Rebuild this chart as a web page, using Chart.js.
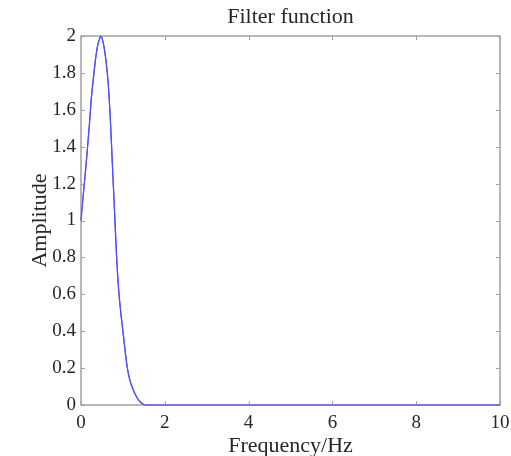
<!DOCTYPE html>
<html>
<head>
<meta charset="utf-8">
<script src="https://cdn.jsdelivr.net/npm/chart.js@4.4.1/dist/chart.umd.min.js"></script>
<style>
  html, body { margin: 0; padding: 0; background: #ffffff; }
  #wrap { width: 511px; height: 456px; }
</style>
</head>
<body>
<div id="wrap"><canvas id="c" width="511" height="456"></canvas></div>
<script>
// Data
const frequency = [0, 0.05, 0.1, 0.15, 0.2, 0.25, 0.3, 0.35, 0.4, 0.45, 0.47, 0.5, 0.55, 0.6, 0.65, 0.7, 0.75, 0.8, 0.85, 0.9, 0.95, 1.0, 1.05, 1.1, 1.15, 1.2, 1.25, 1.3, 1.35, 1.4, 1.45, 1.5, 1.6, 2, 4, 6, 8, 10];
const amplitude = [1.0, 1.13, 1.25, 1.38, 1.52, 1.67, 1.78, 1.88, 1.95, 1.99, 2.0, 1.99, 1.94, 1.86, 1.74, 1.55, 1.30, 1.05, 0.80, 0.62, 0.50, 0.40, 0.30, 0.21, 0.15, 0.11, 0.08, 0.055, 0.035, 0.02, 0.01, 0.003, 0, 0, 0, 0, 0, 0];
const xTicks = [0, 2, 4, 6, 8, 10];
const yTicks = [0, 0.2, 0.4, 0.6, 0.8, 1, 1.2, 1.4, 1.6, 1.8, 2];

const FONT = '"Liberation Serif", "Times New Roman", Times, serif';
const AXIS_COLOR = '#a0a0a0';
const TEXT_COLOR = '#262626';

const points = frequency.map((f, i) => ({ x: f, y: amplitude[i] }));

// Box (top/right) and inward tick marks, positioned via the chart's scales
const boxPlugin = {
  id: 'box',
  afterDraw(chart) {
    const { ctx, chartArea: a, scales } = chart;
    ctx.save();
    ctx.strokeStyle = AXIS_COLOR;
    ctx.lineWidth = 1.5;
    ctx.beginPath();
    ctx.rect(a.left, a.top, a.right - a.left, a.bottom - a.top);
    ctx.stroke();
    ctx.lineWidth = 1;
    const L = 4;
    ctx.beginPath();
    xTicks.forEach(v => {
      const px = Math.round(scales.x.getPixelForValue(v)) + 0.5;
      ctx.moveTo(px, a.bottom); ctx.lineTo(px, a.bottom - L);
      ctx.moveTo(px, a.top); ctx.lineTo(px, a.top + L);
    });
    yTicks.forEach(v => {
      const py = Math.round(scales.y.getPixelForValue(v)) + 0.5;
      ctx.moveTo(a.left, py); ctx.lineTo(a.left + L, py);
      ctx.moveTo(a.right, py); ctx.lineTo(a.right - L, py);
    });
    ctx.stroke();
    ctx.restore();
  }
};

// Redraw dataset on top of the box so the blue line sits over the axis
const topLinePlugin = {
  id: 'topLine',
  afterDraw(chart) {
    const meta = chart.getDatasetMeta(0);
    const ctx = chart.ctx;
    ctx.save();
    meta.dataset.draw(ctx, chart.chartArea);
    ctx.restore();
  }
};

const fmt = v => String(+Number(v).toFixed(1));

new Chart(document.getElementById('c'), {
  type: 'line',
  data: {
    datasets: [{
      data: points,
      borderColor: 'rgb(80,80,255)',
      borderWidth: 1.2,
      pointRadius: 0,
      fill: false,
      cubicInterpolationMode: 'monotone',
      clip: 2
    }]
  },
  options: {
    responsive: false,
    animation: false,
    devicePixelRatio: 1,
    layout: { padding: { top: 0, right: 11, bottom: 0, left: 0 } },
    plugins: {
      legend: { display: false },
      tooltip: { enabled: false },
      title: {
        display: true,
        fullSize: false,
        text: 'Filter function',
        color: TEXT_COLOR,
        font: { family: FONT, size: 22, weight: 'normal', lineHeight: 1.2 },
        padding: { top: 4, bottom: 5.6 }
      }
    },
    scales: {
      x: {
        type: 'linear',
        min: 0, max: 10,
        afterBuildTicks(scale) { scale.ticks = xTicks.map(v => ({ value: v })); },
        afterFit(scale) {
          scale.height = 51;
          scale.paddingLeft = 0;
          scale.paddingRight = 0;
        },
        grid: { display: false, drawTicks: false },
        border: { display: false },
        ticks: {
          color: TEXT_COLOR,
          font: { family: FONT, size: 19, lineHeight: 1.2 },
          padding: 7,
          maxRotation: 0,
          autoSkip: false,
          callback: fmt
        },
        title: {
          display: true,
          text: 'Frequency/Hz',
          color: TEXT_COLOR,
          font: { family: FONT, size: 22, lineHeight: 0.85 },
          padding: { top: 0, bottom: 0 }
        }
      },
      y: {
        type: 'linear',
        min: 0, max: 2,
        afterBuildTicks(scale) { scale.ticks = yTicks.map(v => ({ value: v })); },
        afterFit(scale) {
          scale.width = 81;
          scale.paddingTop = 0;
          scale.paddingBottom = 0;
        },
        grid: { display: false, drawTicks: false },
        border: { display: false },
        ticks: {
          color: TEXT_COLOR,
          font: { family: FONT, size: 19, lineHeight: 1.2 },
          padding: 5,
          autoSkip: false,
          callback: fmt
        },
        title: {
          display: true,
          text: 'Amplitude',
          color: TEXT_COLOR,
          font: { family: FONT, size: 22, lineHeight: 1.2 },
          padding: { top: 27, bottom: 0 }
        }
      }
    }
  },
  plugins: [boxPlugin, topLinePlugin]
});
</script>
</body>
</html>
